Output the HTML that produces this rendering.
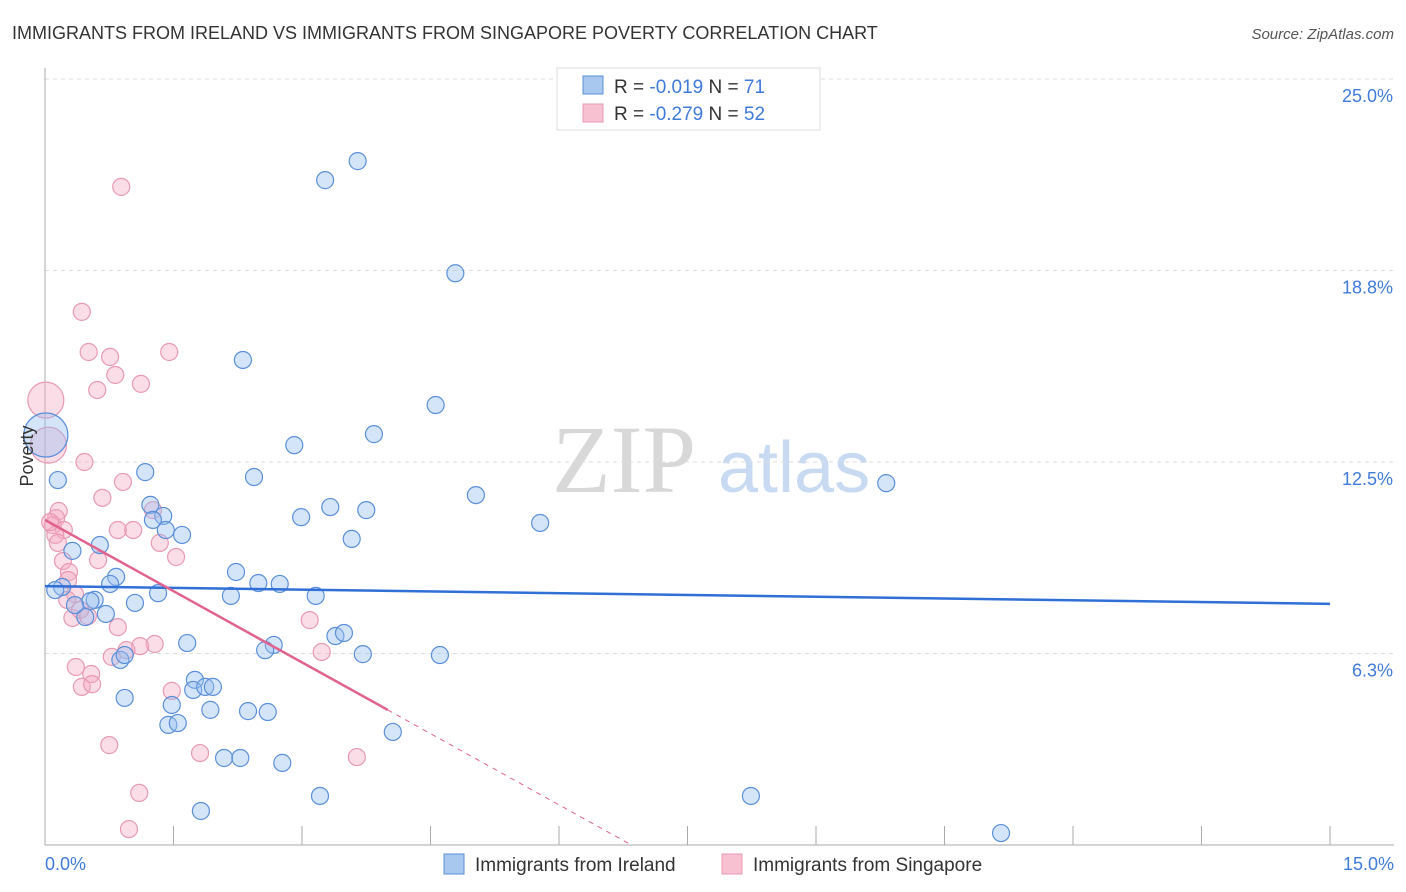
<!DOCTYPE html>
<html><head><meta charset="utf-8"><style>
body{margin:0;background:#fff;font-family:"Liberation Sans",sans-serif;}
svg{display:block}
</style></head><body>
<svg id="chart" width="1406" height="892" xmlns="http://www.w3.org/2000/svg">
<text x="12" y="39" font-size="18" fill="#333">IMMIGRANTS FROM IRELAND VS IMMIGRANTS FROM SINGAPORE POVERTY CORRELATION CHART</text>
<text x="1394" y="39" font-size="15" fill="#555" font-style="italic" text-anchor="end">Source: ZipAtlas.com</text>
<g>
<text x="552" y="492" font-size="96" font-family="Liberation Serif,serif" fill="#d8d8d8">ZIP</text>
<text x="718" y="492" font-size="72" fill="#c8daf2">atlas</text>
</g>
<g id="grid"></g>
<g id="axes"></g>
<g id="pts"></g>
<g id="trend"></g>
<text x="33" y="456" font-size="18" fill="#333" transform="rotate(-90 33 456)" text-anchor="middle">Poverty</text>
<text x="45" y="870" font-size="18" fill="#3f7bd9">0.0%</text>
<text x="1394" y="870" font-size="18" fill="#3f7bd9" text-anchor="end">15.0%</text>
<g>
<rect x="557" y="68" width="263" height="62" fill="#fff" stroke="#ddd"/>
<rect x="583" y="76" width="20" height="18" fill="#a9c8f0" stroke="#5b8fd9"/>
<rect x="583" y="104" width="20" height="18" fill="#f7c1d1" stroke="#e89ab3"/>
<text x="614" y="93" font-size="19" fill="#333">R = <tspan fill="#3f7bd9">-0.019</tspan>   N = <tspan fill="#3f7bd9">71</tspan></text>
<text x="614" y="120" font-size="19" fill="#333">R = <tspan fill="#3f7bd9">-0.279</tspan>   N = <tspan fill="#3f7bd9">52</tspan></text>
</g>
<g>
<rect x="444" y="854" width="20" height="20" fill="#a9c8f0" stroke="#5b8fd9"/>
<text x="475" y="871" font-size="19" fill="#333">Immigrants from Ireland</text>
<rect x="722" y="854" width="20" height="20" fill="#f7c1d1" stroke="#e89ab3"/>
<text x="753" y="871" font-size="19" fill="#333">Immigrants from Singapore</text>
</g>
</svg>
<script>
const yTicks=[25,18.75,12.5,6.25];
const yTickLabels=["25.0%","18.8%","12.5%","6.3%"];
const xTicks=[0,1.5,3,4.5,6,7.5,9,10.5,12,13.5,15];
const irelandX=[3.65,3.27,4.79,2.31,4.56,3.84,2.91,0.01,0.15,1.17,2.44,5.03,9.82,1.23,1.38,2.99,3.33,3.75,5.78,1.26,1.41,1.60,0.32,0.64,3.58,2.23,0.83,2.49,2.74,0.76,0.20,1.32,2.17,3.16,0.58,1.05,0.53,0.71,0.47,1.66,2.67,2.57,3.39,3.49,3.71,4.61,0.88,0.93,1.75,1.73,1.87,1.96,0.93,1.48,1.93,1.44,1.55,2.37,2.60,4.06,2.09,2.28,2.77,3.21,1.82,8.24,11.16,0.12,0.35];
const irelandY=[22.32,21.70,18.66,15.83,14.36,13.41,13.05,13.38,11.91,12.17,12.01,11.42,11.81,11.10,10.74,10.70,11.03,10.93,10.51,10.61,10.28,10.12,9.60,9.79,9.99,8.91,8.75,8.55,8.52,8.52,8.42,8.22,8.13,8.13,8.00,7.90,7.96,7.54,7.44,6.59,6.53,6.36,6.82,6.92,6.23,6.20,6.04,6.20,5.39,5.06,5.16,5.16,4.80,4.57,4.41,3.92,3.98,4.37,4.34,3.69,2.84,2.84,2.68,1.60,1.11,1.60,0.39,8.32,7.83];
const singX=[0.89,0.43,0.51,0.76,1.45,0.82,0.61,1.12,0.01,0.04,0.46,0.91,0.67,0.16,0.13,0.09,0.22,0.12,0.15,1.26,0.85,1.03,1.34,1.53,0.62,0.21,0.28,0.27,0.35,0.26,0.32,0.50,0.85,3.09,3.23,1.28,1.11,0.95,0.78,0.36,0.54,0.43,0.55,1.48,0.75,1.81,3.64,1.10,0.98,0.06,0.41];
const singY=[21.48,17.40,16.09,15.93,16.09,15.34,14.85,15.05,14.52,13.05,12.50,11.85,11.33,10.90,10.67,10.44,10.28,10.12,9.86,10.93,10.28,10.28,9.86,9.40,9.30,9.27,8.91,8.65,8.19,8.00,7.41,7.47,7.11,7.34,6.30,6.56,6.49,6.36,6.14,5.81,5.58,5.16,5.25,5.03,3.26,3.00,2.87,1.70,0.52,10.54,7.67];
const irelandTrend=[8.45,7.87];
const singTrend=[10.61,-1.55];
const NS="http://www.w3.org/2000/svg";
const X0=45,X1=1330,Y0=845,YPX=30.64;
function sx(v){return X0+(X1-X0)*v/15;}
function sy(v){return Y0-v*YPX;}
function mk(tag,attrs,parent){const e=document.createElementNS(NS,tag);for(const k in attrs)e.setAttribute(k,attrs[k]);parent.appendChild(e);return e;}
const grid=document.getElementById('grid'),axes=document.getElementById('axes'),pts=document.getElementById('pts'),trend=document.getElementById('trend');
yTicks.forEach((t,i)=>{
 const l=mk('line',{x1:X0,x2:1394,y1:sy(t),y2:sy(t),stroke:'#ddd','stroke-dasharray':'4 4'},grid);
 
 
 const tx=mk('text',{x:1393,y:sy(t)+23,'font-size':18,fill:'#3f7bd9','text-anchor':'end'},grid);
 tx.textContent=yTickLabels[i];
 
 
});
const ya=mk('line',{x1:X0,x2:X0,y1:68,y2:845,stroke:'#aaa'},axes);


const xa=mk('line',{x1:X0,x2:1394,y1:845,y2:845,stroke:'#aaa'},axes);


xTicks.forEach(t=>{
 const l=mk('line',{x1:sx(t),x2:sx(t),y1:826,y2:845,stroke:'#aaa'},axes);
 
 
});
function drawPts(xs,ys,fill,stroke,name){
 xs.forEach((v,i)=>{
  const big=v<0.05&&(ys[i]>13);
  const c=mk('circle',{cx:sx(v),cy:sy(ys[i]),r:big?(name==='ireland-point'?22:18):8.5,fill:fill,stroke:stroke,'stroke-width':1.2},pts);
  
  
 });
}
drawPts(singX,singY,'rgba(244,170,195,0.4)','#e89ab3','singapore-point');
drawPts(irelandX,irelandY,'rgba(150,190,240,0.4)','#5b8fd9','ireland-point');
const bl=mk('line',{x1:sx(0),y1:sy(irelandTrend[0]),x2:sx(15),y2:sy(irelandTrend[1]),stroke:'#2f6fd6','stroke-width':2.5},trend);


const xEnd=4,xZero=-singTrend[0]/singTrend[1];
const pl=mk('line',{x1:sx(0),y1:sy(singTrend[0]),x2:sx(xEnd),y2:sy(singTrend[0]+singTrend[1]*xEnd),stroke:'#e0628e','stroke-width':2.5},trend);


const pd=mk('line',{x1:sx(xEnd),y1:sy(singTrend[0]+singTrend[1]*xEnd),x2:sx(xZero),y2:sy(0),stroke:'#e0628e','stroke-width':1,'stroke-dasharray':'5 5'},trend);


</script>
</body></html>
